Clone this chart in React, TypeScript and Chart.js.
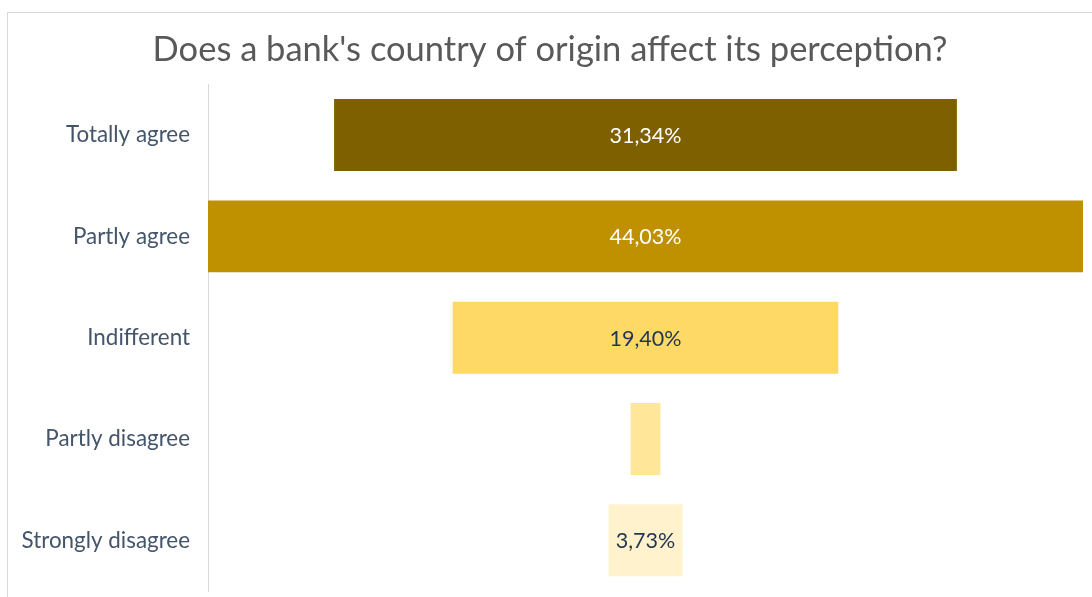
import React, { useEffect, useRef } from "react";
import { Chart, registerables } from "chart.js";

Chart.register(...registerables);

const categories = ["Totally agree", "Partly agree", "Indifferent", "Partly disagree", "Strongly disagree"];
const values = [31.34, 44.03, 19.4, 1.5, 3.73];
const barColors = ["#7F6000", "#BF9000", "#FFD966", "#FFE699", "#FFF2CC"];
const labelColors = ["#FFFFFF", "#FFFFFF", "#1F3550", "#1F3550", "#1F3550"];
const titleText = "Does a bank's country of origin affect its perception?";

const FONT = "Lato, 'Open Sans', sans-serif";

const labelPlugin = {
  id: "funnelLabels",
  afterDatasetsDraw(chart: any) {
    const ctx = chart.ctx;
    const meta = chart.getDatasetMeta(0);
    ctx.save();
    ctx.font = `21.5px ${FONT}`;
    ctx.textAlign = "center";
    ctx.textBaseline = "middle";
    meta.data.forEach((el: any, i: number) => {
      const txt = values[i].toFixed(2).replace(".", ",") + "%";
      const w = Math.abs(el.x - el.base);
      const tw = ctx.measureText(txt).width;
      if (tw > w) return;
      ctx.fillStyle = labelColors[i];
      ctx.fillText(txt, (el.x + el.base) / 2, el.y + 1);
    });
    ctx.restore();
  },
};

export default function App() {
  const ref = useRef<HTMLCanvasElement | null>(null);
  useEffect(() => {
    if (!ref.current) return;
    const maxV = Math.max(...values);
    const chart = new Chart(ref.current, {
      type: "bar",
      data: {
        labels: categories,
        datasets: [
          {
            data: values.map((v) => [-v / 2, v / 2]) as any,
            backgroundColor: barColors,
            borderWidth: 0,
            barPercentage: 0.71,
            categoryPercentage: 1,
          },
        ],
      },
      options: {
        indexAxis: "y",
        animation: false,
        responsive: false,
        maintainAspectRatio: false,
        layout: { padding: { left: 17, right: 9, top: 0, bottom: 6 } },
        plugins: {
          legend: { display: false },
          tooltip: { enabled: false },
          title: {
            display: true,
            text: titleText,
            color: "#595959",
            font: { family: FONT, size: 34.5, weight: "normal", lineHeight: 1.2 },
            padding: { top: 29, bottom: 14 },
          },
        },
        scales: {
          x: {
            display: false,
            min: -maxV / 2,
            max: maxV / 2,
          },
          y: {
            afterFit(scale: any) {
              scale.width = 191;
            },
            grid: {
              display: true,
              drawOnChartArea: false,
              drawTicks: true,
              tickLength: 18,
              color: "rgba(0,0,0,0)",
            },
            border: { display: true, color: "#D9D9D9", width: 1 },
            ticks: {
              color: "#44546A",
              padding: 0,
              font: { family: FONT, size: 22.4, lineHeight: 0.5 },
            },
          },
        },
      },
      plugins: [labelPlugin],
    });
    return () => chart.destroy();
  }, []);

  return (
    <div style={{ position: "fixed", left: 0, top: 0, width: 1092, height: 597, background: "#fff" }}>
      <canvas ref={ref} width={1092} height={597} style={{ position: "absolute", left: 0, top: 0 }} />
      <div
        style={{
          position: "absolute",
          left: 7,
          top: 12,
          width: 1092,
          height: 600,
          borderLeft: "1px solid #D9D9D9",
          borderTop: "1px solid #D9D9D9",
          pointerEvents: "none",
        }}
      />
    </div>
  );
}
